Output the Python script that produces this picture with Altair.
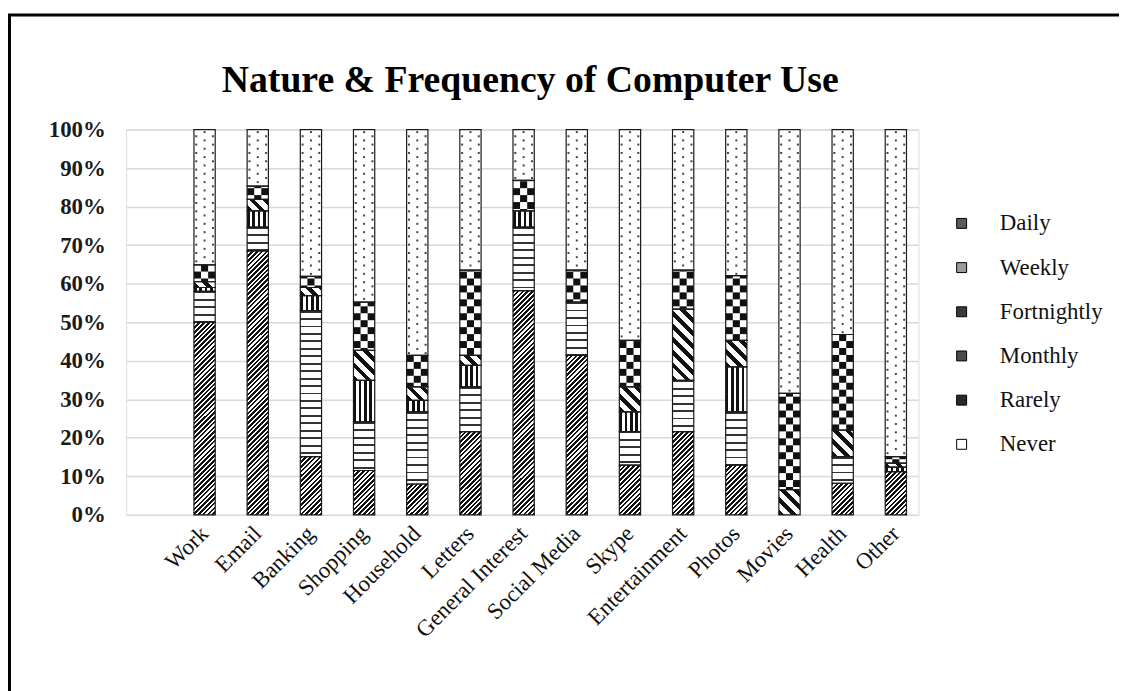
import math
import altair as alt

# ---------------- data ----------------
cats = ["Work", "Email", "Banking", "Shopping", "Household", "Letters",
        "General Interest", "Social Media", "Skype", "Entertainment",
        "Photos", "Movies", "Health", "Other"]
levels = ["Daily", "Weekly", "Fortnightly", "Monthly", "Rarely", "Never"]

daily       = [50.0, 68.5, 15.1, 11.5, 8.0, 21.6, 58.2, 41.4, 12.9, 21.6, 12.9, 0.0, 8.2, 11.2]
weekly      = [8.0, 6.2, 37.9, 12.6, 18.7, 11.6, 16.5, 13.8, 8.7, 13.3, 13.8, 0.0, 6.9, 0.0]
fortnightly = [1.0, 4.2, 3.9, 10.8, 3.0, 5.6, 4.2, 0.0, 5.1, 0.0, 11.7, 0.0, 0.0, 1.2]
monthly     = [1.5, 3.0, 2.1, 7.8, 3.5, 2.6, 0.0, 0.0, 6.5, 18.5, 6.9, 6.5, 6.9, 1.0]
rarely      = [4.4, 3.4, 2.9, 12.5, 8.2, 22.1, 7.9, 8.3, 12.1, 10.1, 16.8, 25.0, 24.8, 1.7]
never       = [35.1, 14.7, 38.1, 44.8, 58.6, 36.5, 13.2, 36.5, 54.7, 36.5, 37.9, 68.5, 53.2, 84.9]

series = [daily, weekly, fortnightly, monthly, rarely, never]
legend_tones = ["#5a5a5a", "#9a9a9a", "#3a3a3a", "#4a4a4a", "#2a2a2a", "#ffffff"]

# ---------------- layout constants ----------------
PLOT_W, PLOT_H = 798, 388
BAR_W = 21.4           # band width in px (from scale padding)
PX_PER_PCT = PLOT_H / 100.0


def stripe_stops(n, duty, dark, light="#ffffff"):
    stops = []
    k = 0
    n = max(n, 0.5)
    while k < n:
        a = k / n
        b = min((k + duty) / n, 1.0)
        c = min((k + 1) / n, 1.0)
        stops += [{"offset": round(a, 5), "color": dark},
                  {"offset": round(b, 5), "color": dark},
                  {"offset": round(b, 5), "color": light},
                  {"offset": round(c, 5), "color": light}]
        k += 1
    return stops


def diag(h, period, duty, dark, up=True):
    w = BAR_W
    s = (w + h) / (w * w + h * h)
    n = (w + h) / period
    if up:
        x1, y1, x2, y2 = 0, 0, s * w, s * h
    else:
        x1, y1, x2, y2 = 0, 1, s * w, 1 - s * h
    return {"gradient": "linear", "x1": x1, "y1": y1, "x2": x2, "y2": y2,
            "stops": stripe_stops(n, duty, dark)}


def pattern(level, h):
    if level == "Daily":
        return diag(h, 4.8, 0.55, "#111111", up=True)
    if level == "Monthly":
        return diag(h, 13.0, 0.45, "#111111", up=False)
    if level == "Weekly":
        return {"gradient": "linear", "x1": 0, "y1": 0, "x2": 0, "y2": 1,
                "stops": stripe_stops(h / 7.5, 0.25, "#333333")}
    if level == "Fortnightly":
        return {"gradient": "linear", "x1": 0, "y1": 0, "x2": 1, "y2": 0,
                "stops": stripe_stops(4, 0.5, "#111111")}
    return "#ffffff"


segments, cells, dots = [], [], []
CELL = 7.0 / PX_PER_PCT      # checker cell height in %
DOT_STEP = 4.2 / PX_PER_PCT  # dot row step in %
for i, c in enumerate(cats):
    lo = 0.0
    for lev, vals in zip(levels, series):
        v = vals[i]
        hi = lo + v
        if v > 0:
            segments.append({"cat": c, "level": lev, "lo": lo, "hi": hi,
                             "grad": pattern(lev, v * PX_PER_PCT)})
            if lev == "Rarely":
                k = int(lo // CELL)
                while k * CELL < hi:
                    a = max(k * CELL, lo)
                    b = min((k + 1) * CELL, hi)
                    if b - a > 0.05:
                        for col in range(3):
                            if (k + col) % 2 == 0:
                                cells.append({"cat": c, "lo": a, "hi": b, "col": col})
                    k += 1
            if lev == "Never":
                j = 0
                while True:
                    y = 100 - (j + 0.6) * DOT_STEP
                    if y <= lo + 0.3:
                        break
                    if j % 2 == 0:
                        dots.append({"cat": c, "y": y, "col": 0})
                    else:
                        dots.append({"cat": c, "y": y, "col": -1})
                        dots.append({"cat": c, "y": y, "col": 1})
                    j += 1
        lo = hi

seg_data = alt.Data(values=segments)
cell_data = alt.Data(values=cells)
dot_data = alt.Data(values=dots)

x_enc = alt.X("cat:N", sort=cats,
              scale=alt.Scale(domain=cats, paddingInner=0.6, paddingOuter=0.75, align=0.85),
              axis=alt.Axis(title=None, labelAngle=-45, labelAlign="right", labelBaseline="middle",
                            labelFont="Liberation Serif", labelFontSize=23, labelColor="#111111",
                            ticks=False, domain=False, labelPadding=15, grid=False))
y_scale = alt.Scale(domain=[0, 100], nice=False)
y_axis = alt.Axis(title=None, values=list(range(0, 101, 10)), labelExpr="datum.value + '%'",
                  labelFont="Liberation Serif", labelFontWeight="bold", labelFontSize=23,
                  labelColor="#1a1a1a", ticks=False, domain=False, gridColor="#d9d9d9",
                  gridWidth=1.5, labelPadding=21)
y_lo = alt.Y("lo:Q", scale=y_scale, axis=y_axis)
y_hi = alt.Y2("hi:Q")

frame = alt.Chart(alt.Data(values=[{"a": 1}])).mark_rect(
    fillOpacity=0, stroke="#000000", strokeWidth=3
).encode(x=alt.value(-117.5), x2=alt.value(2000), y=alt.value(-115.5), y2=alt.value(2000))

base = alt.Chart(seg_data).mark_bar().encode(
    x=x_enc, y=y_lo, y2=y_hi,
    color=alt.Color("level:N", scale=alt.Scale(domain=levels, range=legend_tones),
                    legend=alt.Legend(orient="none", legendX=830, legendY=83, title=None,
                                      symbolType="square", symbolSize=100,
                                      symbolStrokeColor="#000000", symbolStrokeWidth=1,
                                      symbolOpacity=1, labelFont="Liberation Serif",
                                      labelFontSize=23, labelColor="#111111",
                                      labelOffset=27, rowPadding=20.5, padding=0))
)

pat = alt.Chart(seg_data).mark_bar().encode(
    x=x_enc, y=y_lo, y2=y_hi,
    fill=alt.Fill("grad:N", scale=None, legend=None)
)

cw = BAR_W / 3
checker_layers = []
for col in range(3):
    checker_layers.append(
        alt.Chart(cell_data).mark_bar(width=cw, xOffset=(col - 1) * cw, color="#111111")
        .encode(x=x_enc, y=alt.Y("lo:Q", scale=y_scale, axis=y_axis), y2="hi:Q")
        .transform_filter(alt.datum.col == col)
    )

dot_layers = []
for col in (-1, 0, 1):
    dot_layers.append(
        alt.Chart(dot_data).mark_square(size=4, color="#444444", opacity=1, xOffset=col * 8.4)
        .encode(x=x_enc, y=alt.Y("y:Q", scale=y_scale, axis=y_axis))
        .transform_filter(alt.datum.col == col)
    )

outline = alt.Chart(seg_data).mark_bar(fillOpacity=0, stroke="#1a1a1a", strokeWidth=1.2).encode(
    x=x_enc, y=y_lo, y2=y_hi
)

chart = alt.layer(frame, base, pat, *checker_layers, *dot_layers, outline).properties(
    width=PLOT_W, height=PLOT_H,
    title=alt.TitleParams("Nature & Frequency of Computer Use", font="Liberation Serif",
                          fontSize=38, fontWeight="bold", color="#000000",
                          anchor="middle", offset=0, dy=87, dx=8),
    autosize=alt.AutoSizeParams(type="none"),
    padding={"left": 119, "top": 120, "right": 202, "bottom": 175},
).configure_view(stroke=None).configure(background="#ffffff")

chart.save("out.html", embed_options={"renderer": "svg", "actions": False})
